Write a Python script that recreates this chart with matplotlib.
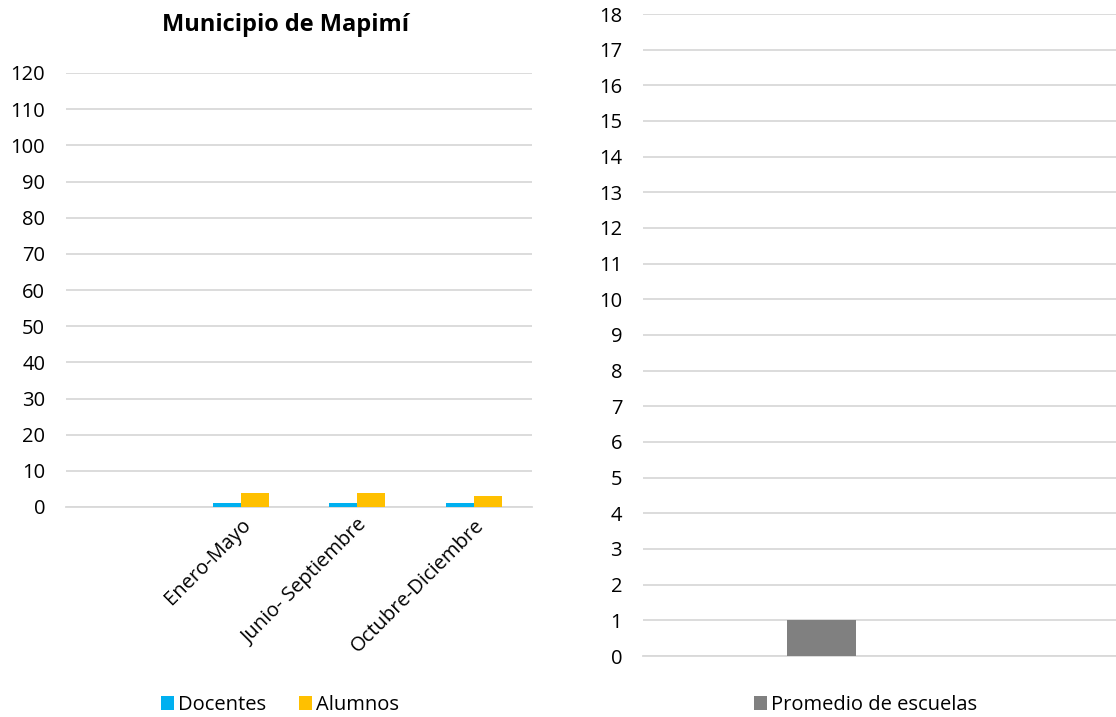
import numpy as np
import matplotlib
matplotlib.use("Agg")
import matplotlib.pyplot as plt

plt.rcParams['font.family'] = ['Open Sans', 'Noto Sans', 'DejaVu Sans']

# datos del municipio
periodos = ["", "Enero-Mayo", "Junio- Septiembre", "Octubre-Diciembre"]
docentes = [0, 1, 1, 1]
alumnos = [0, 4, 4, 3]
serie_escuelas = ["Promedio de escuelas"]
promedio_escuelas = [1]

GRID = "#D9D9D9"
FS = 14.5

fig = plt.figure(figsize=(11.16, 7.17), dpi=100)

# panel izquierdo
ax1 = fig.add_axes([66 / 1116, 1 - 507 / 717, (532 - 66) / 1116, (507 - 73) / 717])
x = np.arange(len(periodos))
w = 0.24
ax1.bar(x - w / 2, docentes, w, color="#00B0F0", label="Docentes", zorder=3)
ax1.bar(x + w / 2, alumnos, w, color="#FFC000", label="Alumnos", zorder=3)
ax1.set_xlim(-0.5, len(periodos) - 0.5)
ax1.set_ylim(0, 120)
ax1.set_yticks(np.arange(0, 121, 10))
ax1.set_xticks(x)
ax1.set_xticklabels(periodos, rotation=45, ha="right", va="top", rotation_mode="anchor")
ax1.tick_params(axis="x", length=0, pad=6, labelsize=FS)
ax1.tick_params(axis="y", length=0, pad=15, labelsize=FS)
ax1.grid(axis="y", color=GRID, linewidth=1.3, zorder=0)
for s in ["top", "right", "left"]:
    ax1.spines[s].set_visible(False)
ax1.spines["bottom"].set_color(GRID)
ax1.spines["bottom"].set_linewidth(1.3)
fig.text(286 / 1116, 1 - 25 / 717, "Municipio de Mapimí", ha="center", va="center",
         fontsize=17, fontweight="bold")
ax1.legend(loc="center", bbox_to_anchor=(280 / 1116, 1 - 705 / 717), bbox_transform=fig.transFigure,
           ncol=2, frameon=False, fontsize=FS, handlelength=0.65, handleheight=0.65,
           handletextpad=0.2, columnspacing=1.6)

# panel derecho
ax2 = fig.add_axes([643 / 1116, 1 - 656 / 717, (1116 - 643) / 1116, (656 - 14) / 717])
ax2.bar([0], promedio_escuelas, 0.146, color="#808080", label=serie_escuelas[0], zorder=3)
ax2.set_xlim(-0.378, 0.622)
ax2.set_ylim(0, 18)
ax2.set_yticks(np.arange(0, 19, 1))
ax2.set_xticks([])
ax2.tick_params(axis="y", length=0, pad=15, labelsize=FS)
ax2.grid(axis="y", color=GRID, linewidth=1.3, zorder=0)
for s in ["top", "right", "left"]:
    ax2.spines[s].set_visible(False)
ax2.spines["bottom"].set_color(GRID)
ax2.spines["bottom"].set_linewidth(1.3)
ax2.legend(loc="center", bbox_to_anchor=(866 / 1116, 1 - 705 / 717), bbox_transform=fig.transFigure,
           frameon=False, fontsize=FS, handlelength=0.65, handleheight=0.65, handletextpad=0.2)

fig.savefig("out.png", dpi=100)
